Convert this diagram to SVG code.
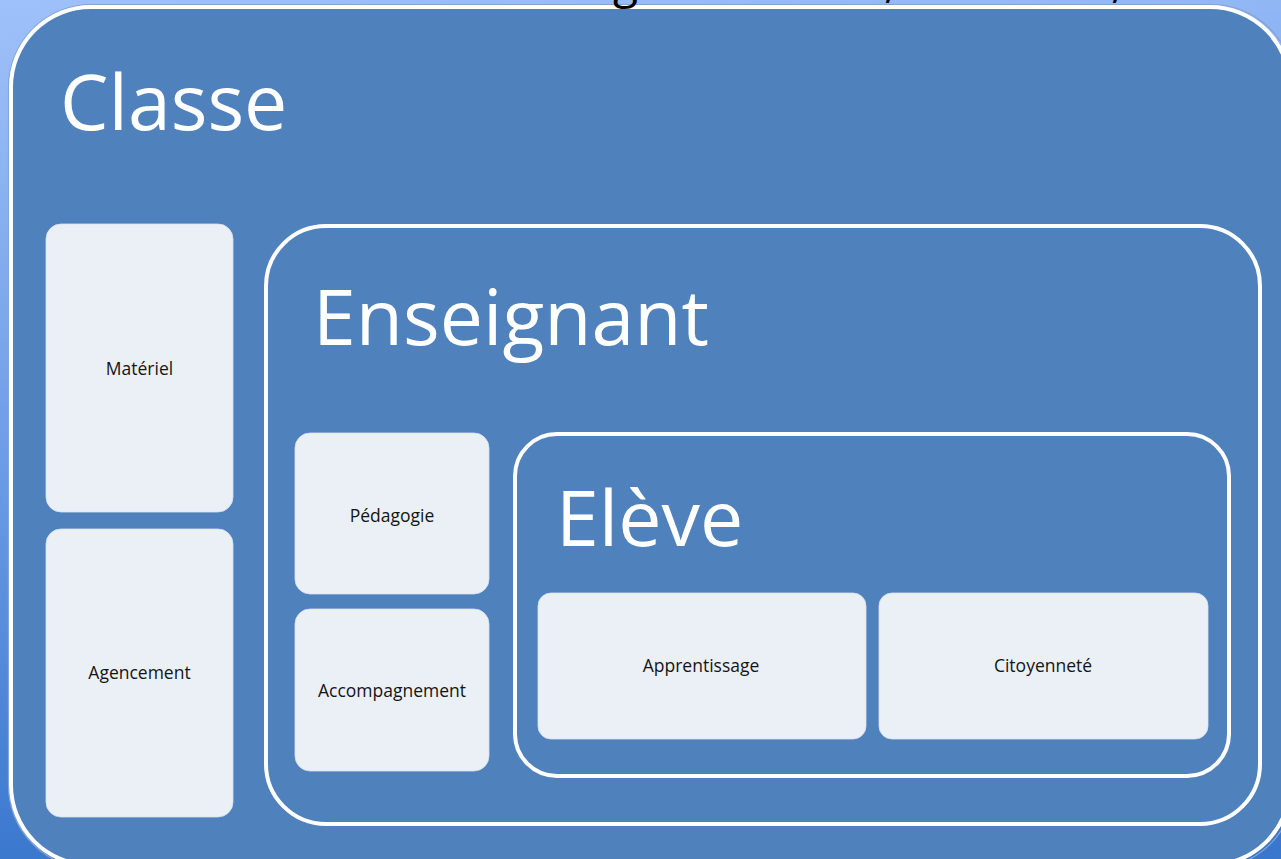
<svg xmlns="http://www.w3.org/2000/svg" width="1281" height="859" viewBox="0 0 1281 859">
  <defs>
    <linearGradient id="bg" x1="0" y1="0" x2="0.15" y2="1">
      <stop offset="0" stop-color="#9fc1fa"/>
      <stop offset="0.5" stop-color="#6f9ee7"/>
      <stop offset="1" stop-color="#3877cd"/>
    </linearGradient>
  </defs>
  <style>
    .frame { fill: #4f81bd; stroke: #ffffff; stroke-width: 4; }
    .edge { fill: none; stroke: #86a3d3; stroke-width: 1.2; }
    .box { fill: #ebf0f7; stroke: #d9e2ef; stroke-width: 0.8; }
    .title { font-family: "Open Sans", "Noto Sans", sans-serif; font-size: 77px; fill: #ffffff; }
    .label { font-family: "Open Sans", "Noto Sans", sans-serif; font-size: 17.5px; fill: #141414; text-anchor: middle; dominant-baseline: central; }
    .cut { font-family: "Open Sans", "Noto Sans", sans-serif; font-size: 46px; fill: #000000; }
  </style>
  <rect x="0" y="0" width="1281" height="859" fill="url(#bg)"/>

  <g id="classe">
    <rect class="edge" x="8.5" y="4.5" width="1286" height="864" rx="83"/>
    <rect class="frame" x="11" y="7" width="1279" height="858" rx="80"/>
    <text class="title" x="60" y="130">Classe</text>
  </g>

  <g id="materiel">
    <rect class="box" x="46" y="224" width="187" height="288" rx="15"/>
    <text class="label" x="139.5" y="368">Matériel</text>
  </g>
  <g id="agencement">
    <rect class="box" x="46" y="529" width="187" height="288" rx="15"/>
    <text class="label" x="139.5" y="672">Agencement</text>
  </g>

  <g id="enseignant">
    <rect class="frame" x="266" y="226" width="994" height="598" rx="60"/>
    <text class="title" x="313" y="345">Enseignant</text>
  </g>

  <g id="pedagogie">
    <rect class="box" x="295" y="433" width="194" height="161" rx="15"/>
    <text class="label" x="392" y="515">Pédagogie</text>
  </g>
  <g id="accompagnement">
    <rect class="box" x="295" y="609" width="194" height="162" rx="15"/>
    <text class="label" x="392" y="690">Accompagnement</text>
  </g>

  <g id="eleve">
    <rect class="frame" x="515" y="434" width="714" height="342" rx="42"/>
    <text class="title" x="556" y="546">Elève</text>
  </g>

  <g id="apprentissage">
    <rect class="box" x="538" y="593" width="328" height="146" rx="13"/>
    <text class="label" x="701" y="665">Apprentissage</text>
  </g>
  <g id="citoyennete">
    <rect class="box" x="879" y="593" width="329" height="146" rx="13"/>
    <text class="label" x="1043" y="665">Citoyenneté</text>
  </g>

  <g id="connectors"></g>

  <g id="cut-title">
    <text class="cut" x="613" y="-2">g</text>
    <text class="cut" x="884" y="-3">,</text>
    <text class="cut" x="1111" y="-3">,</text>
  </g>
</svg>
